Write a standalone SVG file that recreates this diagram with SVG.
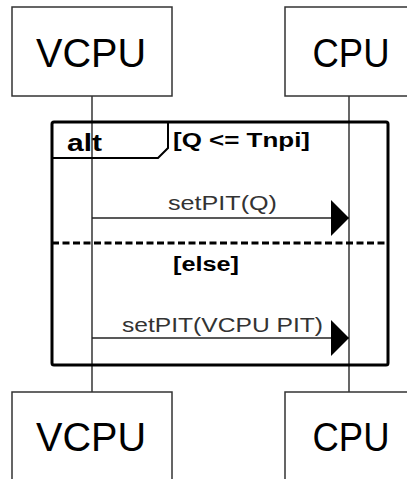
<svg xmlns="http://www.w3.org/2000/svg" width="407" height="479" viewBox="0 0 407 479">
<style>
.box{fill:#fff;stroke:#333;stroke-width:1.5}
.life{stroke:#000;stroke-width:1.2}
.name{font-family:"Liberation Sans",Arial,sans-serif;font-size:41px;fill:#000;text-anchor:middle}
.msg{stroke:#222;stroke-width:1.5;fill:none}
.lbl{font-family:"Liberation Sans",Arial,sans-serif;font-size:21px;fill:#333}
.bold{font-family:"Liberation Sans",Arial,sans-serif;font-weight:bold;fill:#000}
</style>
<defs>
<marker id="ah" markerWidth="18" markerHeight="36" refX="18" refY="18" orient="auto" markerUnits="userSpaceOnUse">
<path d="M0,0 L18,18 L0,36 Z" fill="#000"/>
</marker>
</defs>
<g id="lifelines">
<line class="life" x1="92" y1="96" x2="92" y2="392"/>
<line class="life" x1="349" y1="96" x2="349" y2="392"/>
</g>
<g id="vcpu-top"><rect class="box" x="12" y="7" width="160" height="89"/><text class="name" x="91" y="67" textLength="110" lengthAdjust="spacingAndGlyphs">VCPU</text></g>
<g id="cpu-top"><rect class="box" x="285" y="7" width="130" height="89"/><text class="name" x="351" y="67" textLength="77" lengthAdjust="spacingAndGlyphs">CPU</text></g>
<g id="vcpu-bottom"><rect class="box" x="12" y="392" width="160" height="95"/><text class="name" x="91" y="451" textLength="110" lengthAdjust="spacingAndGlyphs">VCPU</text></g>
<g id="cpu-bottom"><rect class="box" x="285" y="392" width="130" height="95"/><text class="name" x="351" y="451" textLength="77" lengthAdjust="spacingAndGlyphs">CPU</text></g>
<g id="alt-frame">
<rect x="52" y="122" width="336" height="243" rx="2" fill="none" stroke="#000" stroke-width="3"/>
<path d="M52,122 L168,122 L168,148 L158,158 L52,158" fill="none" stroke="#000" stroke-width="2"/>
<text class="bold" x="67" y="151" font-size="24" textLength="35" lengthAdjust="spacingAndGlyphs">alt</text>
<text class="bold" x="173" y="147" font-size="20" textLength="137" lengthAdjust="spacingAndGlyphs">[Q &lt;= Tnpi]</text>
<line x1="52" y1="243" x2="388" y2="243" stroke="#000" stroke-width="3" stroke-dasharray="7,3.5"/>
<text class="bold" x="173" y="271" font-size="20" textLength="66" lengthAdjust="spacingAndGlyphs">[else]</text>
</g>
<g id="connectors">
<line class="msg" x1="92" y1="218" x2="349" y2="218" marker-end="url(#ah)"/>
<text class="lbl" x="168" y="210" textLength="109" lengthAdjust="spacingAndGlyphs">setPIT(Q)</text>
<line class="msg" x1="92" y1="338" x2="349" y2="338" marker-end="url(#ah)"/>
<text class="lbl" x="122" y="332" textLength="201" lengthAdjust="spacingAndGlyphs">setPIT(VCPU PIT)</text>
</g>
</svg>
